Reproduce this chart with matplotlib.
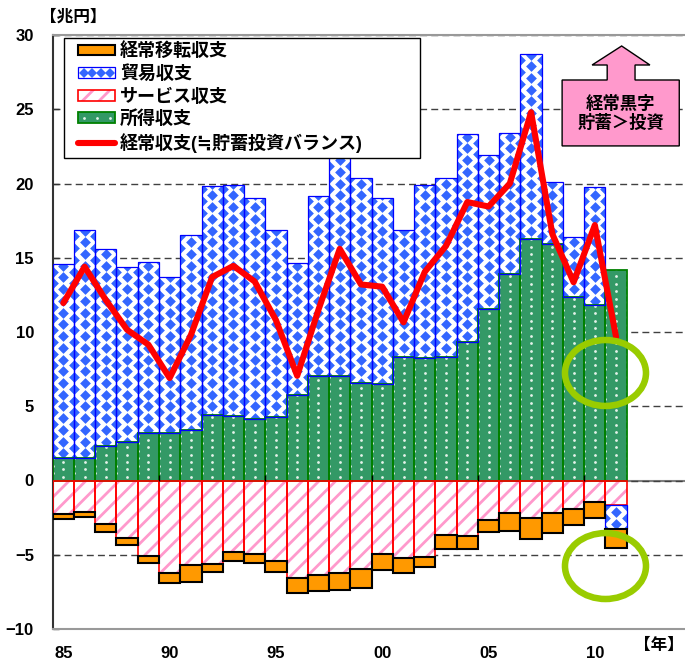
import numpy as np
import matplotlib
matplotlib.use('Agg')
import matplotlib.pyplot as plt
from matplotlib.patches import Rectangle, Polygon, Ellipse
from matplotlib.lines import Line2D
from matplotlib.path import Path
from matplotlib.legend_handler import HandlerLine2D, HandlerPatch, HandlerTuple

plt.rcParams['font.family'] = ['Liberation Sans', 'Noto Sans CJK JP', 'DejaVu Sans']
plt.rcParams['font.weight'] = 'bold'
plt.rcParams['hatch.linewidth'] = 2.0

# 兆円
years = np.arange(1985, 2012)
income = [1.54, 1.54, 2.29, 2.62, 3.23, 3.23, 3.41, 4.43, 4.36, 4.13, 4.25, 5.78, 7.01, 7.06,
          6.57, 6.52, 8.32, 8.23, 8.32, 9.31, 11.57, 13.91, 16.29, 15.93, 12.38, 11.79, 14.18]
trade = [13.02, 15.34, 13.33, 11.78, 11.49, 10.47, 13.13, 15.42, 15.54, 14.87, 12.63, 8.90, 12.17, 15.96,
         13.80, 12.48, 8.56, 11.67, 12.03, 14.01, 10.36, 9.48, 12.44, 4.15, 4.05, 8.00, -1.62]
services = [-2.26, -2.15, -2.94, -3.89, -5.10, -6.23, -5.66, -5.62, -4.79, -4.92, -5.39, -6.54, -6.36, -6.23,
            -5.96, -4.97, -5.24, -5.12, -3.66, -3.73, -2.69, -2.18, -2.53, -2.18, -1.93, -1.45, -1.66]
transfers = [-0.34, -0.34, -0.52, -0.45, -0.45, -0.68, -1.18, -0.52, -0.60, -0.65, -0.77, -1.04, -1.11, -1.17,
             -1.25, -1.03, -0.96, -0.68, -0.92, -0.90, -0.79, -1.25, -1.38, -1.35, -1.10, -1.10, -1.26]
current = [11.95, 14.4, 12.15, 10.15, 9.15, 6.9, 9.8, 13.7, 14.45, 13.4, 10.8, 7.05, 11.5, 15.6,
           13.2, 13.05, 10.65, 14.05, 15.8, 18.75, 18.45, 20.0, 24.8, 16.6, 13.35, 17.2, 9.65]
label_years = [1985, 1990, 1995, 2000, 2005, 2010]
year_labels = ['85', '90', '95', '00', '05', '10']

ORANGE = '#FF9900'
BLUE = '#3366FF'
PINK = '#FF99CC'
GREEN = '#339966'
DOT = '#e4f2e9'

fig = plt.figure(figsize=(6.85, 6.62), dpi=100)
ax = fig.add_axes([52.7 / 685, 33 / 662, 1 - 52.7 / 685, 594 / 662])
ax.set_xlim(1984.5, 2014.24)
ax.set_ylim(-10, 30)


def texture(bars, xs, ys, **kw):
    # pattern fill: markers clipped to the bar rectangles
    clip = Path.make_compound_path(*[b.get_path().transformed(b.get_patch_transform()) for b in bars])
    sc = ax.scatter(xs, ys, linewidths=0, zorder=2.5, **kw)
    sc.set_clip_path(clip, ax.transData)


def lattice(step):
    cols = np.arange(years[0] - 0.5, years[-1] + 0.51, 0.5)
    xs, ys = [], []
    for i, x in enumerate(cols):
        off = 0 if i % 2 == 0 else step / 2
        yy = np.arange(-12 + off, 31, step)
        xs.append(np.full(len(yy), x))
        ys.append(yy)
    return np.concatenate(xs), np.concatenate(ys)


inc = np.array(income)
tr = np.array(trade)
sv = np.array(services)
tf = np.array(transfers)
pos = np.zeros(len(years))
neg = np.zeros(len(years))

# 所得収支
b_inc = ax.bar(years, inc, 1.0, bottom=pos, color=GREEN, linewidth=0, zorder=2)
ax.bar(years, inc, 1.0, bottom=pos, fill=False, edgecolor='#008000', linewidth=1.3, zorder=3)
pos = pos + inc

# サービス収支
ax.bar(years, sv, 1.0, bottom=neg, color='white', edgecolor=PINK, hatch='//', linewidth=0, zorder=2)
ax.bar(years, sv, 1.0, bottom=neg, fill=False, edgecolor='#FF0000', linewidth=1.2, zorder=3)
neg = neg + sv

# 貿易収支
tr_bottom = np.where(tr >= 0, pos, neg)
b_tr = ax.bar(years, tr, 1.0, bottom=tr_bottom, color='white', linewidth=0, zorder=2)
ax.bar(years, tr, 1.0, bottom=tr_bottom, fill=False, edgecolor='#0000FF', linewidth=0.9, zorder=3)
pos = pos + np.clip(tr, 0, None)
neg = neg + np.clip(tr, None, 0)

# 経常移転収支
ax.bar(years, tf, 1.0, bottom=neg, color=ORANGE, edgecolor='black', linewidth=1.5, zorder=3)

dx, dy = lattice(0.79)
texture(b_tr, dx, dy, marker='D', s=30, color=BLUE)
px_, py_ = lattice(0.5)
texture(b_inc, px_, py_, marker='o', s=4.0, color=DOT)

# 経常収支
ax.plot(years, current, color='#FF0000', linewidth=4.4, solid_capstyle='round',
        solid_joinstyle='round', zorder=4)

# axes styling
ax.set_yticks(np.arange(-10, 31, 5))
ax.set_xticks(label_years)
ax.set_xticklabels(year_labels)
ax.tick_params(axis='y', direction='in', length=4.5, width=1, pad=13.5, labelsize=12, color='#333333')
ax.tick_params(axis='x', length=0, pad=12, labelsize=12)
ax.grid(axis='y', color='#404040', linewidth=1.0, linestyle=(0, (5, 3)), zorder=0)
ax.axhline(0, color='#808080', linewidth=1.5, zorder=1)
ax.vlines(np.array(label_years[1:]) - 0.5, 0, 0.35, colors='black', linewidth=1, zorder=3.5)
ax.spines['right'].set_visible(False)
ax.spines['left'].set_color('#333333')
ax.spines['left'].set_linewidth(1.5)
for s in ('top', 'bottom'):
    ax.spines[s].set_color('#999999')
    ax.spines[s].set_linewidth(1.5)

fig.text(40 / 685, 1 - 17 / 662, '【兆円】', fontsize=12, fontweight='bold', va='center', ha='left')
fig.text(684 / 685, 1 - 645 / 662, '【年】', fontsize=12, fontweight='bold', va='center', ha='right')

# 経常黒字 callout
callout = Polygon([(2011.26, 29.26), (2012.59, 27.98), (2011.89, 27.98), (2011.89, 26.97),
                   (2013.97, 26.97), (2013.97, 22.53), (2008.46, 22.53), (2008.46, 26.97),
                   (2010.58, 26.97), (2010.58, 27.98), (2009.87, 27.98)],
                  closed=True, facecolor=PINK, edgecolor='black', linewidth=1.0, zorder=6)
ax.add_patch(callout)
ax.text(2011.22, 24.75, '経常黒字\n貯蓄＞投資', fontsize=12.5, fontweight='bold', ha='center',
        va='center', linespacing=1.15, zorder=7)

# highlight rings
for cy in (7.24, -5.76):
    ax.add_patch(Ellipse((2010.5, cy), 3.81, 4.44, fill=False, edgecolor='#99CC00',
                         linewidth=4.7, zorder=5))

# legend
h_tf = Rectangle((0, 0), 1, 1, facecolor=ORANGE, edgecolor='black', linewidth=1.5)
h_tr_dots = Line2D([], [], linestyle='none', marker='D', markersize=5.2, color=BLUE, markeredgewidth=0)
h_tr = (Rectangle((0, 0), 1, 1, facecolor='white', edgecolor='#0000FF', linewidth=0.9), h_tr_dots)
h_sv = (Rectangle((0, 0), 1, 1, facecolor='white', edgecolor=PINK, hatch='//', linewidth=0),
        Rectangle((0, 0), 1, 1, fill=False, edgecolor='#FF0000', linewidth=1.2))
h_inc_dots = Line2D([], [], linestyle='none', marker='o', markersize=2.0, color=DOT, markeredgewidth=0)
h_inc = (Rectangle((0, 0), 1, 1, facecolor=GREEN, edgecolor='#008000', linewidth=1.3), h_inc_dots)
h_ca = Line2D([], [], color='#FF0000', linewidth=4.4, solid_capstyle='round')

xpad = 0.53
leg = ax.legend([h_tf, h_tr, h_sv, h_inc, h_ca],
                ['経常移転収支', '貿易収支', 'サービス収支', '所得収支', '経常収支(≒貯蓄投資バランス)'],
                loc='upper left', bbox_to_anchor=(0.0179, 0.0, 0.563, 0.995), mode='expand',
                borderaxespad=0, prop={'size': 13, 'weight': 'bold'},
                handlelength=2.58, handleheight=0.55, handletextpad=0.28, labelspacing=0.28,
                borderpad=0.25, fancybox=False, framealpha=1, edgecolor='black',
                handler_map={h_tf: HandlerPatch(xpad=xpad),
                             h_tr: HandlerTuple(ndivide=1, xpad=xpad),
                             h_sv: HandlerTuple(ndivide=1, xpad=xpad),
                             h_inc: HandlerTuple(ndivide=1, xpad=xpad),
                             h_ca: HandlerLine2D(xpad=xpad),
                             h_tr_dots: HandlerLine2D(numpoints=4),
                             h_inc_dots: HandlerLine2D(numpoints=3)})
leg.get_frame().set_linewidth(1.0)
leg.set_zorder(6)

plt.savefig('out.png', dpi=100)
